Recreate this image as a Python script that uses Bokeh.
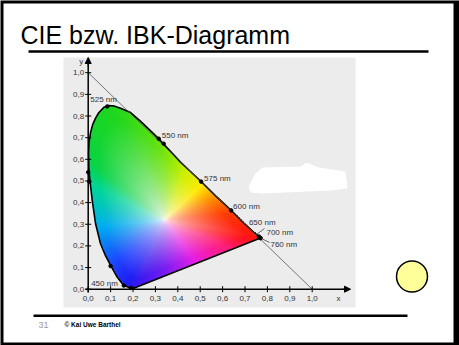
import numpy as np
from bokeh.plotting import figure
from bokeh.models import Range1d, Arrow, NormalHead
from bokeh.core.properties import value
from bokeh.embed import file_html
from bokeh.resources import INLINE

# ---------------- data ----------------
title_text = "CIE bzw. IBK-Diagramm"
footer_page = "31"
footer_author = "\u00a9 Kai Uwe Barthel"

# spectral locus, bottom purple end -> up the left -> peak -> red corner
locus_x = [0.200, 0.189, 0.159, 0.130, 0.100, 0.075, 0.055, 0.033, 0.018, 0.008, 0.003,
           0.002, 0.004, 0.010, 0.020, 0.033, 0.047, 0.070, 0.092, 0.115, 0.144, 0.189,
           0.233, 0.275, 0.315, 0.367, 0.412, 0.460, 0.504, 0.570, 0.638, 0.700, 0.740,
           0.762, 0.769]
locus_y = [0.003, 0.006, 0.017, 0.055, 0.110, 0.160, 0.210, 0.302, 0.410, 0.500, 0.560,
           0.630, 0.680, 0.720, 0.760, 0.790, 0.815, 0.840, 0.848, 0.846, 0.836, 0.816,
           0.776, 0.735, 0.695, 0.637, 0.587, 0.540, 0.497, 0.430, 0.364, 0.300, 0.262,
           0.243, 0.236]

wl_labels = ["525 nm", "550 nm", "575 nm", "600 nm", "650 nm", "700 nm", "760 nm", "450 nm"]
wl_x = [0.085, 0.315, 0.504, 0.638, 0.762, 0.769, 0.769, 0.159]
wl_y = [0.844, 0.695, 0.497, 0.364, 0.243, 0.236, 0.236, 0.017]

extra_dot_x = [0.000, 0.005, 0.100, 0.190, 0.337]
extra_dot_y = [0.540, 0.497, 0.107, 0.006, 0.672]

ticks = [0.0, 0.1, 0.2, 0.3, 0.4, 0.5, 0.6, 0.7, 0.8, 0.9, 1.0]
tick_labels = ["0,0", "0,1", "0,2", "0,3", "0,4", "0,5", "0,6", "0,7", "0,8", "0,9", "1,0"]

# hue anchors of the printed colour fill (angle around the white point, degrees -> RGB)
hue_deg = [-12.5, 5.8, 25, 43.8, 70, 93, 115, 141, 153, 186, 224, 241, 248, 280, 305, 336, 347.5]
hue_r = [255, 255, 255, 255, 200, 110, 30, 10, 0, 0, 30, 30, 60, 150, 230, 255, 255]
hue_g = [20, 60, 145, 235, 240, 228, 215, 212, 215, 175, 65, 30, 25, 30, 30, 30, 20]
hue_b = [20, 0, 0, 0, 0, 15, 30, 70, 150, 240, 255, 245, 240, 240, 230, 120, 20]
white_pt = (0.34, 0.32)

# ---------------- page geometry helpers (pixel -> data) ----------------
W, H = 459, 345
X0PX, XSCALE = 87.7, 224.0
Y0PX, YSCALE = 288.7, 216.5


def X(px):
    return (px - X0PX) / XSCALE


def Y(py):
    return (Y0PX - py) / YSCALE


p = figure(width=W, height=H, output_backend="svg", toolbar_location=None,
           x_range=Range1d(X(0), X(W)), y_range=Range1d(Y(H), Y(0)),
           x_axis_type=None, y_axis_type=None, min_border=0)
p.grid.visible = False
p.outline_line_color = None
p.background_fill_color = "black"
p.border_fill_color = "black"

FONT = value("Liberation Sans")

# white slide
p.quad(left=X(3), right=X(453), top=Y(3), bottom=Y(342), fill_color="white", line_color=None)

# title + rules
p.text(x=[X(20)], y=[Y(34)], text=[title_text], text_font=FONT, text_font_size="25px",
       text_color="black", text_baseline="middle", text_align="left")
p.segment(x0=[X(28)], y0=[Y(51)], x1=[X(428)], y1=[Y(51)], line_color="black", line_width=2.5)
p.segment(x0=[X(33)], y0=[Y(315.3)], x1=[X(407)], y1=[Y(315.3)], line_color="black", line_width=2.5)

# footer
p.text(x=[X(38)], y=[Y(324)], text=[footer_page], text_font=FONT, text_font_size="9px",
       text_color="#9a9a9a", text_baseline="middle", text_align="left")
p.text(x=[X(64)], y=[Y(324)], text=[footer_author], text_font=FONT, text_font_size="6.5px",
       text_font_style="bold", text_color="black", text_baseline="middle", text_align="left")

# yellow button
p.scatter(x=[X(411.5)], y=[Y(276)], size=31, marker="circle", fill_color="#ffff99",
          line_color="black", line_width=1.5)

# scanned picture background
p.quad(left=X(63), right=X(355), top=Y(57), bottom=Y(307), fill_color="#ececec", line_color=None)
blob = [(248, 186), (255, 173), (262, 167), (300, 166), (306, 162), (318, 167), (345, 171),
        (347, 188), (330, 190), (262, 193), (250, 192)]
p.patch(x=[X(a) for a, b in blob], y=[Y(b) for a, b in blob], fill_color="white", line_color=None)

# ---------------- chromaticity colour image ----------------
x0, x1, y0, y1 = 0.0, 0.78, 0.0, 0.86
nx, ny = 260, 280
gx = x0 + (np.arange(nx) + 0.5) * (x1 - x0) / nx
gy = y0 + (np.arange(ny) + 0.5) * (y1 - y0) / ny
GX, GY = np.meshgrid(gx, gy)

px_ = np.array(locus_x + [locus_x[0]])
py_ = np.array(locus_y + [locus_y[0]])
inside = np.zeros_like(GX, dtype=bool)
for i in range(len(px_) - 1):
    xa, ya, xb, yb = px_[i], py_[i], px_[i + 1], py_[i + 1]
    cond = (ya > GY) != (yb > GY)
    with np.errstate(divide="ignore", invalid="ignore"):
        xint = xa + (GY - ya) * (xb - xa) / (yb - ya)
    inside ^= cond & (GX < xint)

# boundary radius around the white point for each direction
wx, wy = white_pt
ang_tab = np.linspace(-np.pi, np.pi, 1441)
dxs, dys = np.cos(ang_tab)[:, None], np.sin(ang_tab)[:, None]
ax_, ay_ = px_[:-1][None, :], py_[:-1][None, :]
ex_, ey_ = (px_[1:] - px_[:-1])[None, :], (py_[1:] - py_[:-1])[None, :]
den = dxs * ey_ - dys * ex_
with np.errstate(divide="ignore", invalid="ignore"):
    tt = ((ax_ - wx) * ey_ - (ay_ - wy) * ex_) / den
    uu = ((ax_ - wx) * dys - (ay_ - wy) * dxs) / den
valid = (tt > 0) & (uu >= 0) & (uu <= 1) & np.isfinite(tt)
R_tab = np.where(valid, tt, np.inf).min(axis=1)
R_tab[~np.isfinite(R_tab)] = 0.4

theta = np.arctan2(GY - wy, GX - wx)
dist = np.hypot(GX - wx, GY - wy)
rr = np.clip(dist / np.interp(theta, ang_tab, R_tab), 0, 1)
sat = np.clip(rr * 1.15, 0, 1) ** 0.6

deg = np.degrees(theta)
deg = np.where(deg < hue_deg[0], deg + 360, deg)
cr = np.interp(deg, hue_deg, hue_r) / 255.0
cg = np.interp(deg, hue_deg, hue_g) / 255.0
cb = np.interp(deg, hue_deg, hue_b) / 255.0
base_white = np.array([1.0, 0.97, 0.97])
rgb = np.stack([base_white[0] * (1 - sat) + cr * sat,
                base_white[1] * (1 - sat) + cg * sat,
                base_white[2] * (1 - sat) + cb * sat], axis=-1)

img = np.zeros((ny, nx), dtype=np.uint32)
view = img.view(dtype=np.uint8).reshape((ny, nx, 4))
for k in range(3):
    view[:, :, k] = (np.clip(rgb[:, :, k], 0, 1) * 255).astype(np.uint8)
view[:, :, 3] = np.where(inside, 255, 0).astype(np.uint8)
p.image_rgba(image=[img], x=x0, y=y0, dw=x1 - x0, dh=y1 - y0)

# locus outline
p.patch(x=locus_x, y=locus_y, fill_color=None, line_color="black", line_width=1.6)

# diagonal x + y = 1
p.line(x=[0, 1], y=[1, 0], line_color="#555555", line_width=0.8)

# axes
p.segment(x0=[0], y0=[Y(292)], x1=[0], y1=[Y(60)], line_color="black", line_width=1.5)
p.segment(x0=[X(85)], y0=[0], x1=[X(347)], y1=[0], line_color="black", line_width=1.5)
p.add_layout(Arrow(end=NormalHead(size=6, fill_color="black", line_color="black"),
                   x_start=0, y_start=Y(66), x_end=0, y_end=Y(57), line_color="black"))
p.add_layout(Arrow(end=NormalHead(size=6, fill_color="black", line_color="black"),
                   x_start=X(342), y_start=0, x_end=X(350), y_end=0, line_color="black"))

zeros = [0.0] * len(ticks)
p.scatter(x=ticks, y=zeros, marker="dash", angle=np.pi / 2, size=6, line_color="black", line_width=1)
p.scatter(x=zeros, y=ticks, marker="dash", size=6, line_color="black", line_width=1)
p.text(x=ticks, y=zeros, text=tick_labels, y_offset=9, text_font=FONT, text_font_size="8px",
       text_color="#333333", text_align="center", text_baseline="middle")
p.text(x=zeros, y=ticks, text=tick_labels, x_offset=-4, text_font=FONT, text_font_size="8px",
       text_color="#333333", text_align="right", text_baseline="middle")
p.text(x=[0], y=[Y(61)], text=["y"], x_offset=-7, text_font=FONT, text_font_size="8px",
       text_color="#333333", text_align="center", text_baseline="middle")
p.text(x=[X(338)], y=[0], text=["x"], y_offset=9, text_font=FONT, text_font_size="8px",
       text_color="#333333", text_align="center", text_baseline="middle")

# wavelength markers and labels
p.scatter(x=wl_x + extra_dot_x, y=wl_y + extra_dot_y, size=3.5, marker="circle",
          fill_color="black", line_color="black")
lab_dx = [-17, 3, 3, 2, -10, 6, 10, -6]
lab_dy = [-7, -3, -3, -4, -14, -6, 6, -2]
lab_align = ["left", "left", "left", "left", "left", "left", "left", "right"]
for lab, xx, yy, dx, dy, al in zip(wl_labels, wl_x, wl_y, lab_dx, lab_dy, lab_align):
    p.text(x=[xx], y=[yy], text=[lab], x_offset=dx, y_offset=dy, text_font=FONT,
           text_font_size="8px", text_color="#333333", text_align=al, text_baseline="middle")

# leader lines near the red corner
p.segment(x0=[X(256), X(261)], y0=[Y(234), Y(238)], x1=[X(264), X(269)], y1=[Y(228), Y(242)],
          line_color="#444444", line_width=0.8)

open("out.html", "w").write(file_html(p, INLINE))
